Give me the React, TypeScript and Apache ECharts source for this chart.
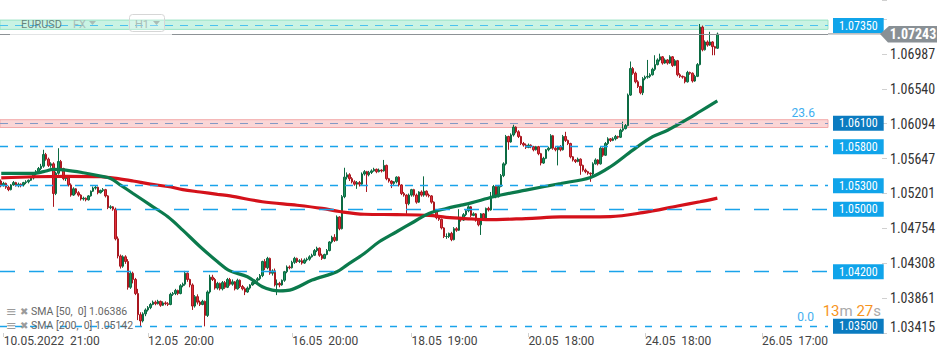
import React, { useEffect, useRef } from 'react';
import * as echarts from 'echarts';

// EURUSD, H1 — prices stored in pips above 1.0000 (price = 1 + pips / 10000)
const FIRST_OPEN_PIPS = 536;
const closePips = [
  530,533,528,525,531,534,530,532,531,534,
  535,537,540,545,548,552,555,570,564,556,
  558,520,546,561,552,539,541,531,518,526,
  521,518,513,514,512,517,523,527,528,521,
  524,525,517,502,503,500,462,440,427,439,
  433,400,418,410,392,365,357,366,371,374,
  378,381,379,382,377,380,379,378,391,392,
  396,392,402,404,418,410,403,376,388,381,
  378,382,364,394,413,410,399,405,398,406,
  400,410,404,407,398,409,401,398,394,399,
  403,406,409,411,415,433,425,437,418,421,
  403,405,403,409,420,426,425,432,437,433,
  434,431,435,436,439,441,447,450,441,437,
  442,447,458,464,460,490,475,516,541,544,
  539,535,532,534,532,545,548,544,547,549,
  551,548,550,549,556,539,536,533,535,541,
  531,520,518,507,518,525,518,509,522,518,
  523,518,517,509,497,489,487,476,465,465,
  469,461,475,473,488,486,493,498,503,492,
  494,486,480,494,488,501,499,516,529,516,
  529,543,558,593,586,595,605,599,593,584,
  582,579,582,580,576,580,571,559,565,576,
  578,594,578,576,580,576,593,588,584,567,
  563,561,564,556,550,548,546,545,558,563,
  558,578,569,584,590,588,590,593,592,601,
  603,607,646,680,674,663,657,649,667,669,
  670,672,679,685,691,695,687,691,687,695,
  684,690,672,670,669,663,675,674,664,670,
  685,733,704,714,710,714,708,706,724,
];
const lowPips = [
  528,529,526,523,524,530,529,528,528,529,
  532,533,536,538,543,546,550,553,562,554,
  553,503,518,544,550,537,536,529,516,517,
  519,516,511,511,510,511,516,522,525,519,
  520,522,515,500,500,498,460,437,424,425,
  430,397,398,405,390,358,350,355,363,369,
  372,377,377,378,375,376,377,376,377,389,
  390,390,391,400,402,407,400,371,374,378,
  376,377,350,362,392,408,397,397,396,396,
  398,399,402,402,396,397,399,396,390,393,
  397,402,404,407,409,413,422,423,416,415,
  401,390,400,402,407,418,423,424,430,431,
  431,429,430,433,434,438,440,445,439,435,
  436,441,446,456,458,459,473,474,514,538,
  536,533,530,526,529,530,543,522,542,545,
  548,546,547,547,548,537,534,527,531,533,
  529,518,516,494,505,516,516,507,508,516,
  516,516,515,507,495,487,485,474,463,462,
  463,459,460,471,472,484,485,491,496,490,
  491,484,478,467,486,487,497,498,515,514,
  515,528,541,556,576,585,593,597,591,582,
  580,577,578,578,574,575,569,556,558,564,
  574,577,576,574,556,574,575,586,582,565,
  561,559,560,544,548,546,544,535,543,557,
  556,557,567,568,582,586,587,588,590,591,
  599,602,606,645,672,661,655,647,646,665,
  667,668,671,677,684,689,685,686,685,686,
  682,683,670,668,667,661,662,672,662,663,
  669,684,702,703,708,709,697,697,705,
];
const highPips = [
  538,535,534,530,532,536,535,534,533,535,
  537,538,542,546,550,554,558,576,572,566,
  560,560,548,578,563,553,543,542,533,528,
  527,523,519,516,515,518,524,529,530,529,
  525,527,526,518,505,504,502,465,442,441,
  441,436,420,420,412,398,368,368,373,376,
  380,383,383,384,383,382,382,381,393,394,
  398,397,404,406,421,419,411,405,390,391,
  383,384,383,396,416,416,412,407,406,408,
  408,412,412,410,408,411,410,403,400,401,
  404,408,410,413,417,434,436,439,438,423,
  424,410,407,410,421,428,428,434,439,438,
  436,437,437,438,441,443,449,452,451,443,
  443,449,459,466,468,492,491,518,553,547,
  546,541,537,536,536,547,550,549,549,551,
  553,552,552,551,563,557,540,537,536,542,
  542,532,522,519,520,526,526,520,523,524,
  542,524,520,518,510,498,491,488,477,469,
  470,471,477,477,500,490,495,500,505,504,
  496,495,488,495,495,502,503,522,531,530,
  531,545,560,595,594,597,608,606,601,594,
  586,584,584,583,581,581,581,572,567,577,
  580,596,595,580,581,582,595,599,589,585,
  568,564,566,565,557,552,549,547,560,565,
  564,580,579,586,592,591,592,595,594,603,
  612,609,648,689,682,676,665,658,669,671,
  691,674,681,697,693,699,696,693,692,697,
  696,692,691,674,671,670,677,676,675,672,
  687,737,735,716,716,727,715,709,726,
];

// Moving averages (bar index, pips)
const sma50Idx = [0,13,17,21,26,33,40,44,48,53,60,67,73,80,87,92,99,105,109,112,116,125,135,139,146,152,159,166,172,179,185,189,198,211,225,237,245,254,262,268,272,277,281,288];
const sma50Pips = [545.7,545.7,548,550.8,550,546.6,542.3,539.3,530.8,520.1,505.2,490.3,473.2,451.9,432.7,421,413.5,400.7,396.4,395.5,396.4,409.2,419.9,428.4,443.3,458.3,471.1,483.9,494.5,500.9,505.2,508,515.9,524.4,532.9,540.6,554.3,575.6,592.7,601,608,617,625,638.6];
const sma200Idx = [0,13,26,40,47,53,60,67,73,80,87,92,105,119,129,136,146,159,172,179,189,195,211,225,245,258,272,281,288];
const sma200Pips = [540,541.5,542,541.5,539,536,532,529,525,522,519,517,509.5,505,501,497,493.5,493,492,489.5,487.5,486.5,488,490,490.5,495.5,504,509.5,514.2];

// Axis
const TOTAL_SLOTS = 333;
const xTickIdx = [1, 59, 117, 165, 212, 259, 306];
const xTickText = ['10.05.2022  21:00', '12.05  20:00', '16.05  20:00', '18.05  19:00', '20.05  18:00', '24.05  18:00', '26.05  17:00'];
const Y_MIN = 1.03415;
const Y_MAX = 1.07677;
const Y_STEP = 0.004465;
const yTickLabels = ['1.03415', '1.03861', '1.04308', '1.04754', '1.05201', '1.05647', '1.06094', '1.06540', '1.06987'];

// Levels
const levelValues = [1.0735, 1.061, 1.058, 1.053, 1.05, 1.042, 1.035];
const levelTexts = ['1.07350', '1.06100', '1.05800', '1.05300', '1.05000', '1.04200', '1.03500'];
const CURRENT_PRICE = 1.07243;
const CURRENT_TEXT = '1.07243';
const greenZone = [1.07301, 1.0742];
const redZone = [1.06045, 1.06145];
const legendRows = ['SMA [50,  0] 1.06386', 'SMA [200,  0] 1.05142'];

const NARROW = "'Liberation Sans Narrow', 'Arial Narrow', 'Roboto Condensed', Roboto, sans-serif";

const toPrice = (p: number) => +(1 + p / 10000).toFixed(5);

export default function App() {
  const ref = useRef<HTMLDivElement>(null);

  useEffect(() => {
    if (!ref.current) return;
    const chart = echarts.init(ref.current, null, { renderer: 'svg', width: 949, height: 358 });

    const candles = closePips.map((c, i) => {
      const o = i === 0 ? FIRST_OPEN_PIPS : closePips[i - 1];
      return [toPrice(o), toPrice(c), toPrice(lowPips[i]), toPrice(highPips[i])];
    });
    const categories = Array.from({ length: TOTAL_SLOTS }, (_, i) => String(i));
    const tickSet = new Set(xTickIdx);
    const sma50 = sma50Idx.map((x, k) => [x, toPrice(sma50Pips[k])]);
    const sma200 = sma200Idx.map((x, k) => [x, toPrice(sma200Pips[k])]);

    const levelStyles = [
      { dash: [8, 7], line: '#4cc2ee', bg: '#10a4ea', w: 1 },
      { dash: [8, 7], line: '#8399c4', bg: '#0b7bc0', w: 1 },
      { dash: [8, 7], line: '#1aa3ea', bg: '#10a4ea', w: 1.3 },
      { dash: [8, 7], line: '#1aa3ea', bg: '#10a4ea', w: 1.3 },
      { dash: [15, 14], line: '#1aa3ea', bg: '#10a4ea', w: 1.3 },
      { dash: [15, 14], line: '#1aa3ea', bg: '#10a4ea', w: 1.3 },
      { dash: [7, 8], line: '#1aa3ea', bg: '#0b7bc0', w: 1.3 },
    ];

    const markLineData: any[] = [
      {
        yAxis: CURRENT_PRICE,
        lineStyle: { type: 'solid', color: '#8d9296', width: 1 },
        label: { show: false },
      },
    ];
    levelValues.forEach((v, k) => {
      markLineData.push({
        yAxis: v,
        lineStyle: { type: levelStyles[k].dash, color: levelStyles[k].line, width: levelStyles[k].w },
        label: {
          show: true, position: 'end', distance: 5, formatter: levelTexts[k],
          color: '#ffffff', backgroundColor: levelStyles[k].bg, padding: [2, 6, 1, 6],
          fontSize: 12, lineHeight: 12, fontFamily: NARROW,
        },
      });
    });

    chart.setOption({
      animation: false,
      backgroundColor: '#ffffff',
      textStyle: { fontFamily: 'Roboto, sans-serif' },
      grid: { left: 0, right: 121, top: 0, bottom: 25, containLabel: false },
      xAxis: {
        type: 'category',
        data: categories,
        boundaryGap: true,
        axisLine: { show: false },
        axisTick: { show: true, alignWithLabel: true, length: 4, lineStyle: { color: '#d0d0d0' } },
        axisLabel: {
          interval: (i: number) => tickSet.has(i),
          formatter: (_v: string, i: number) => {
            const k = xTickIdx.indexOf(i);
            return k >= 0 ? xTickText[k] : '';
          },
          align: 'left', margin: 2, color: '#444', fontSize: 12, fontFamily: 'Roboto',
        },
        splitLine: { show: false },
      },
      yAxis: [
        { type: 'value', min: Y_MIN, max: Y_MAX, show: false, position: 'right', splitLine: { show: false } },
        {
          type: 'value', min: 0, max: +(Y_MAX - Y_MIN).toFixed(5), interval: Y_STEP,
          position: 'right', offset: 54,
          axisLine: { show: false },
          axisTick: { show: true, length: 5, lineStyle: { color: '#d0d0d0' } },
          splitLine: { show: false },
          axisLabel: {
            margin: 8, color: '#333', fontSize: 14, fontFamily: NARROW,
            formatter: (v: number) => {
              const k = Math.round(v / Y_STEP);
              if (Math.abs(v - k * Y_STEP) > 1e-7 || k >= yTickLabels.length) return '';
              return k === 0 ? '{low|' + yTickLabels[0] + '}' : yTickLabels[k];
            },
            rich: { low: { padding: [0, 0, 12, 0], color: '#333', fontSize: 14, fontFamily: NARROW } },
          },
        },
      ],
      series: [
        {
          type: 'candlestick', data: candles, barWidth: 2, z: 2,
          itemStyle: {
            color: '#17955e', color0: '#e3303b',
            borderColor: '#0c6a42', borderColor0: '#a9171f', borderWidth: 1,
          },
        },
        {
          type: 'line', data: sma200, smooth: 0.35, showSymbol: false, z: 3,
          lineStyle: { color: '#d4111a', width: 3.2 },
        },
        {
          type: 'line', data: sma50, smooth: 0.35, showSymbol: false, z: 4,
          lineStyle: { color: '#0b7a4c', width: 3.2 },
          markLine: { silent: true, symbol: ['none', 'none'], precision: 5, data: markLineData },
        },
        {
          type: 'line', data: [], z: 5, silent: true,
          markArea: {
            silent: true,
            data: [
              [{ yAxis: greenZone[0], itemStyle: { color: 'rgba(120,225,185,0.4)', borderColor: '#98e2c4', borderWidth: 1 } }, { yAxis: greenZone[1] }],
              [{ yAxis: redZone[0], itemStyle: { color: 'rgba(240,120,120,0.3)', borderColor: '#f3aaaa', borderWidth: 1 } }, { yAxis: redZone[1] }],
            ],
          },
        },
      ],
    });

    const yCur = chart.convertToPixel({ yAxisIndex: 0 }, CURRENT_PRICE) as number;
    const y061 = chart.convertToPixel({ yAxisIndex: 0 }, levelValues[1]) as number;
    const y035 = chart.convertToPixel({ yAxisIndex: 0 }, levelValues[6]) as number;
    const gridRight = 828;

    chart.setOption({
      graphic: [
        { type: 'line', z: 100, shape: { x1: gridRight, y1: yCur, x2: 881, y2: yCur }, style: { stroke: '#8d9296', lineWidth: 1 } },
        {
          type: 'polygon', z: 100,
          shape: { points: [[880, yCur], [889, yCur - 8], [937, yCur - 8], [937, yCur + 8.5], [888, yCur + 8.5]] },
          style: { fill: '#899095' },
        },
        {
          type: 'text', z: 101, x: 913, y: yCur + 0.5,
          style: { text: CURRENT_TEXT, fill: '#ffffff', fontSize: 14, fontWeight: 'bold', fontFamily: NARROW, align: 'center', verticalAlign: 'middle', textAlign: 'center', textVerticalAlign: 'middle' },
        },
        {
          type: 'text', z: 100, x: 815, y: y061 - 10,
          style: { text: '23.6', fill: '#3eaeef', fontSize: 12, fontFamily: 'Roboto', align: 'right', verticalAlign: 'middle', textAlign: 'right', textVerticalAlign: 'middle' },
        },
        {
          type: 'text', z: 100, x: 814, y: y035 - 9,
          style: { text: '0.0', fill: '#3eaeef', fontSize: 12, fontFamily: 'Roboto', align: 'right', verticalAlign: 'middle', textAlign: 'right', textVerticalAlign: 'middle' },
        },
        {
          type: 'text', z: 100, x: 881, y: y035 - 15.5,
          style: {
            text: '{o|13}{g|m} {o|27}{g|s}', align: 'right', verticalAlign: 'middle', textAlign: 'right', textVerticalAlign: 'middle',
            fontSize: 15, lineHeight: 14, fontFamily: 'Roboto',
            rich: {
              o: { fill: '#f7941d', fontSize: 15, lineHeight: 14, fontFamily: 'Roboto' },
              g: { fill: '#a9a9a9', fontSize: 15, lineHeight: 14, fontFamily: 'Roboto' },
            },
          },
        },
        // header
        { type: 'rect', z: 100, shape: { x: 10, y: 32, width: 162, height: 3 }, style: { fill: 'rgba(255,255,255,0.75)' } },
        { type: 'text', z: 100, x: 21, y: 24, style: { text: 'EURUSD', fill: 'rgba(80,100,95,0.8)', fontSize: 11, fontFamily: 'Roboto', verticalAlign: 'middle', textVerticalAlign: 'middle' } },
        { type: 'text', z: 100, x: 73, y: 24, style: { text: 'FX', fill: '#a9bdb6', fontSize: 11, fontFamily: 'Roboto', verticalAlign: 'middle', textVerticalAlign: 'middle' } },
        { type: 'polygon', z: 100, shape: { points: [[89, 21], [96, 21], [92.5, 25]] }, style: { fill: '#a9bdb6' } },
        { type: 'rect', z: 100, shape: { x: 129.5, y: 14.5, width: 35, height: 17, r: 3 }, style: { fill: 'rgba(255,255,255,0.25)', stroke: '#d6d6d6', lineWidth: 1 } },
        { type: 'text', z: 100, x: 135, y: 24, style: { text: 'H1', fill: '#a9bdb6', fontSize: 11, fontFamily: 'Roboto', verticalAlign: 'middle', textVerticalAlign: 'middle' } },
        { type: 'polygon', z: 100, shape: { points: [[153, 21], [160, 21], [156.5, 25]] }, style: { fill: '#a9bdb6' } },
        // indicator legend
        ...legendRows.flatMap((t, k) => [
          { type: 'text', z: 100, x: 6, y: 311.5 + k * 13.5, style: { text: '≡', fill: '#9b9b9b', fontSize: 13, fontFamily: 'DejaVu Sans', verticalAlign: 'middle', textVerticalAlign: 'middle' } },
          { type: 'text', z: 100, x: 20, y: 311.5 + k * 13.5, style: { text: '✖', fill: '#9b9b9b', fontSize: 10, fontFamily: 'DejaVu Sans', verticalAlign: 'middle', textVerticalAlign: 'middle' } },
          { type: 'text', z: 100, x: 31, y: 311.5 + k * 13.5, style: { text: t, fill: '#666666', fontSize: 10.5, fontFamily: 'Roboto', verticalAlign: 'middle', textVerticalAlign: 'middle' } },
        ]),
      ],
    });

    return () => chart.dispose();
  }, []);

  return (
    <div
      ref={ref}
      style={{ position: 'fixed', left: 0, top: 0, width: 949, height: 358, background: '#ffffff' }}
    />
  );
}
